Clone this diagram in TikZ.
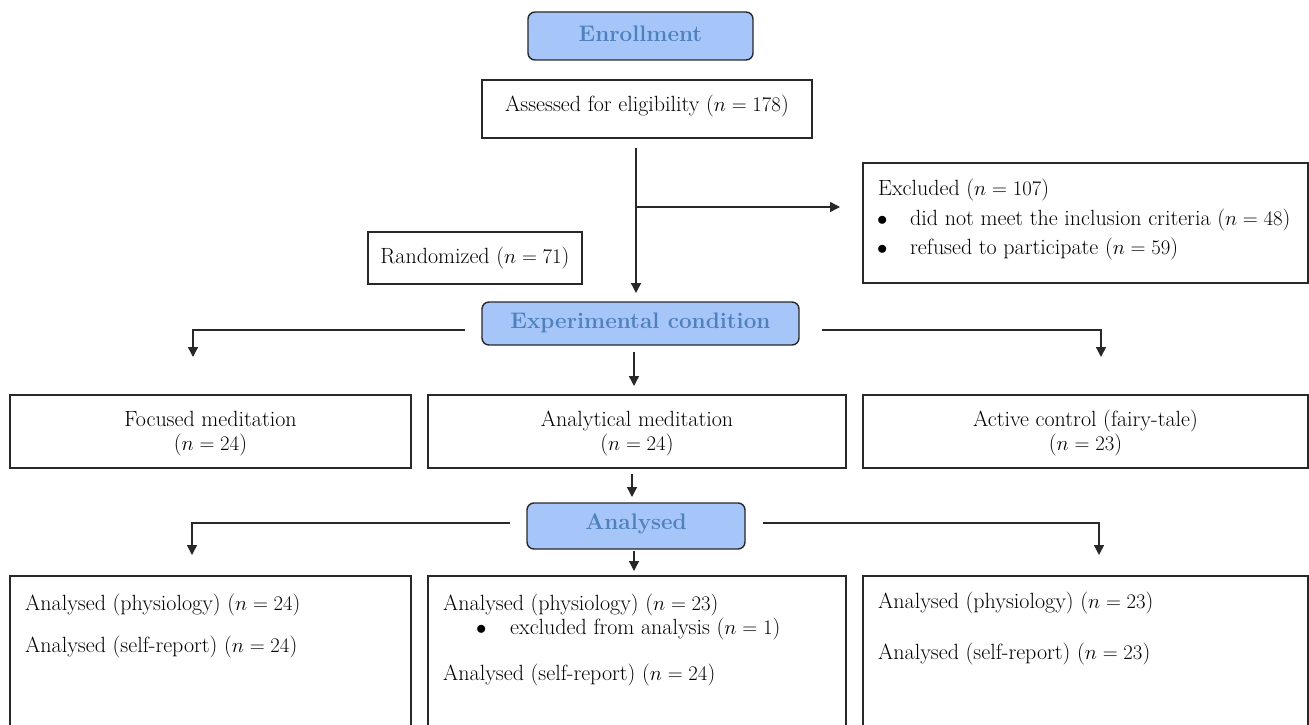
\documentclass[tikz,border=0pt]{standalone}
\usetikzlibrary{arrows.meta,calc}
\definecolor{hdrfill}{RGB}{166,198,250}
\definecolor{hdrtext}{RGB}{79,129,189}
\definecolor{edge}{RGB}{40,40,40}
\tikzset{
  txt/.style={font=\fontsize{22}{26}\selectfont, inner sep=0pt},
  twoline/.style={txt, align=center, font=\fontsize{22}{24}\selectfont},
  box/.style={draw=edge, line width=1.4pt, fill=white, inner sep=0pt},
  hdr/.style={draw=edge, line width=1.4pt, fill=hdrfill, rounded corners=7pt, inner sep=0pt,
     text=hdrtext, font=\fontsize{22.5}{26}\selectfont\bfseries},
  conn/.style={draw=edge, line width=1.4pt},
  arr/.style={conn, -{Triangle[length=10pt,width=10pt]}},
}
\begin{document}
\begin{tikzpicture}[x=1pt,y=-1pt]
\clip (0,0) rectangle (1309,725);
\fill[white] (0,0) rectangle (1309,725);
% headers
\node[hdr, minimum width=225pt, minimum height=48pt] (enr) at (640.5,36) {};
\node[txt, text=hdrtext, font=\fontsize{22.5}{26}\selectfont\bfseries] (enrt) at ($(enr.center)+(0,-2)$) {Enrollment};
\node[hdr, minimum width=317pt, minimum height=43pt] (exp) at (640.5,323.5) {};
\node[txt, text=hdrtext, font=\fontsize{22.5}{26}\selectfont\bfseries] (expt) at ($(exp.center)+(0,-1)$) {Experimental condition};
\node[hdr, minimum width=218pt, minimum height=46pt] (ana) at (636,526) {};
\node[txt, text=hdrtext, font=\fontsize{22.5}{26}\selectfont\bfseries] (anat) at ($(ana.center)+(0,-2)$) {Analysed};
% top boxes
\node[box, minimum width=330pt, minimum height=58pt] (ass) at (647,109) {};
\node[txt] (asst) at ($(ass.center)+(0,-3)$) {Assessed for eligibility ($n = 178$)};
\node[box, minimum width=445pt, minimum height=120pt] (exc) at (1085.5,223) {};
\node[txt, anchor=base west] (exc1) at (878,195) {Excluded ($n = 107$)};
\node[txt, anchor=base west] (exc2b) at (877,225) {$\bullet$};
\node[txt, anchor=base west] (exc2) at (910,225) {did not meet the inclusion criteria ($n = 48$)};
\node[txt, anchor=base west] (exc3b) at (877,254) {$\bullet$};
\node[txt, anchor=base west] (exc3) at (910,254) {refused to participate ($n = 59$)};
\node[box, minimum width=214pt, minimum height=52pt] (rnd) at (475,258) {};
\node[txt] (rndt) at (rnd.center) {Randomized ($n = 71$)};
% middle boxes
\node[box, minimum width=401pt, minimum height=73pt] (fm) at (210.5,431.5) {};
\node[twoline] (fmt) at ($(fm.center)+(0,2)$) {Focused meditation\\($n = 24$)};
\node[box, minimum width=418pt, minimum height=73pt] (am) at (637,431.5) {};
\node[twoline] (amt) at ($(am.center)+(0,2)$) {Analytical meditation\\($n = 24$)};
\node[box, minimum width=445pt, minimum height=73pt] (ac) at (1085.5,431.5) {};
\node[twoline] (act) at ($(ac.center)+(0,2)$) {Active control (fairy-tale)\\($n = 23$)};
% bottom boxes
\node[box, minimum width=401pt, minimum height=184pt] (fb) at (210.5,668) {};
\node[txt, anchor=base west] (fb1) at (25,610) {Analysed (physiology) ($n = 24$)};
\node[txt, anchor=base west] (fb2) at (25,652) {Analysed (self-report) ($n = 24$)};
\node[box, minimum width=418pt, minimum height=184pt] (ab) at (637,668) {};
\node[txt, anchor=base west] (ab1) at (443,610) {Analysed (physiology) ($n = 23$)};
\node[txt, anchor=base west] (ab2b) at (476,634) {$\bullet$};
\node[txt, anchor=base west] (ab2) at (510,634) {excluded from analysis ($n = 1$)};
\node[txt, anchor=base west] (ab3) at (443,680) {Analysed (self-report) ($n = 24$)};
\node[box, minimum width=445pt, minimum height=184pt] (cb) at (1085.5,668) {};
\node[txt, anchor=base west] (cb1) at (878,608) {Analysed (physiology) ($n = 23$)};
\node[txt, anchor=base west] (cb2) at (878,659) {Analysed (self-report) ($n = 23$)};
% connector points
\coordinate (v0) at (636,148);
\coordinate (v1) at (636,293);
\coordinate (vb) at (636,207);
\coordinate (vx) at (840,207);
\coordinate (l1) at (465,330);
\coordinate (l2) at (193,330);
\coordinate (l3) at (193,357);
\coordinate (r1) at (822,330);
\coordinate (r2) at (1101,330);
\coordinate (r3) at (1101,357);
\coordinate (m1) at (634,352);
\coordinate (m2) at (634,386);
\coordinate (n1) at (632,474);
\coordinate (n2) at (632,497);
\coordinate (p1) at (510,523);
\coordinate (p2) at (192,523);
\coordinate (p3) at (192,555);
\coordinate (q1) at (763,523);
\coordinate (q2) at (1099,523);
\coordinate (q3) at (1099,555);
\coordinate (s1) at (634,551);
\coordinate (s2) at (634,571);
\draw[arr] (v0) -- (v1);
\draw[arr] (vb) -- (vx);
\draw[arr] (l1) -- (l2) -- (l3);
\draw[arr] (r1) -- (r2) -- (r3);
\draw[arr] (m1) -- (m2);
\draw[arr] (n1) -- (n2);
\draw[arr] (p1) -- (p2) -- (p3);
\draw[arr] (q1) -- (q2) -- (q3);
\draw[arr] (s1) -- (s2);
\end{tikzpicture}
\end{document}
